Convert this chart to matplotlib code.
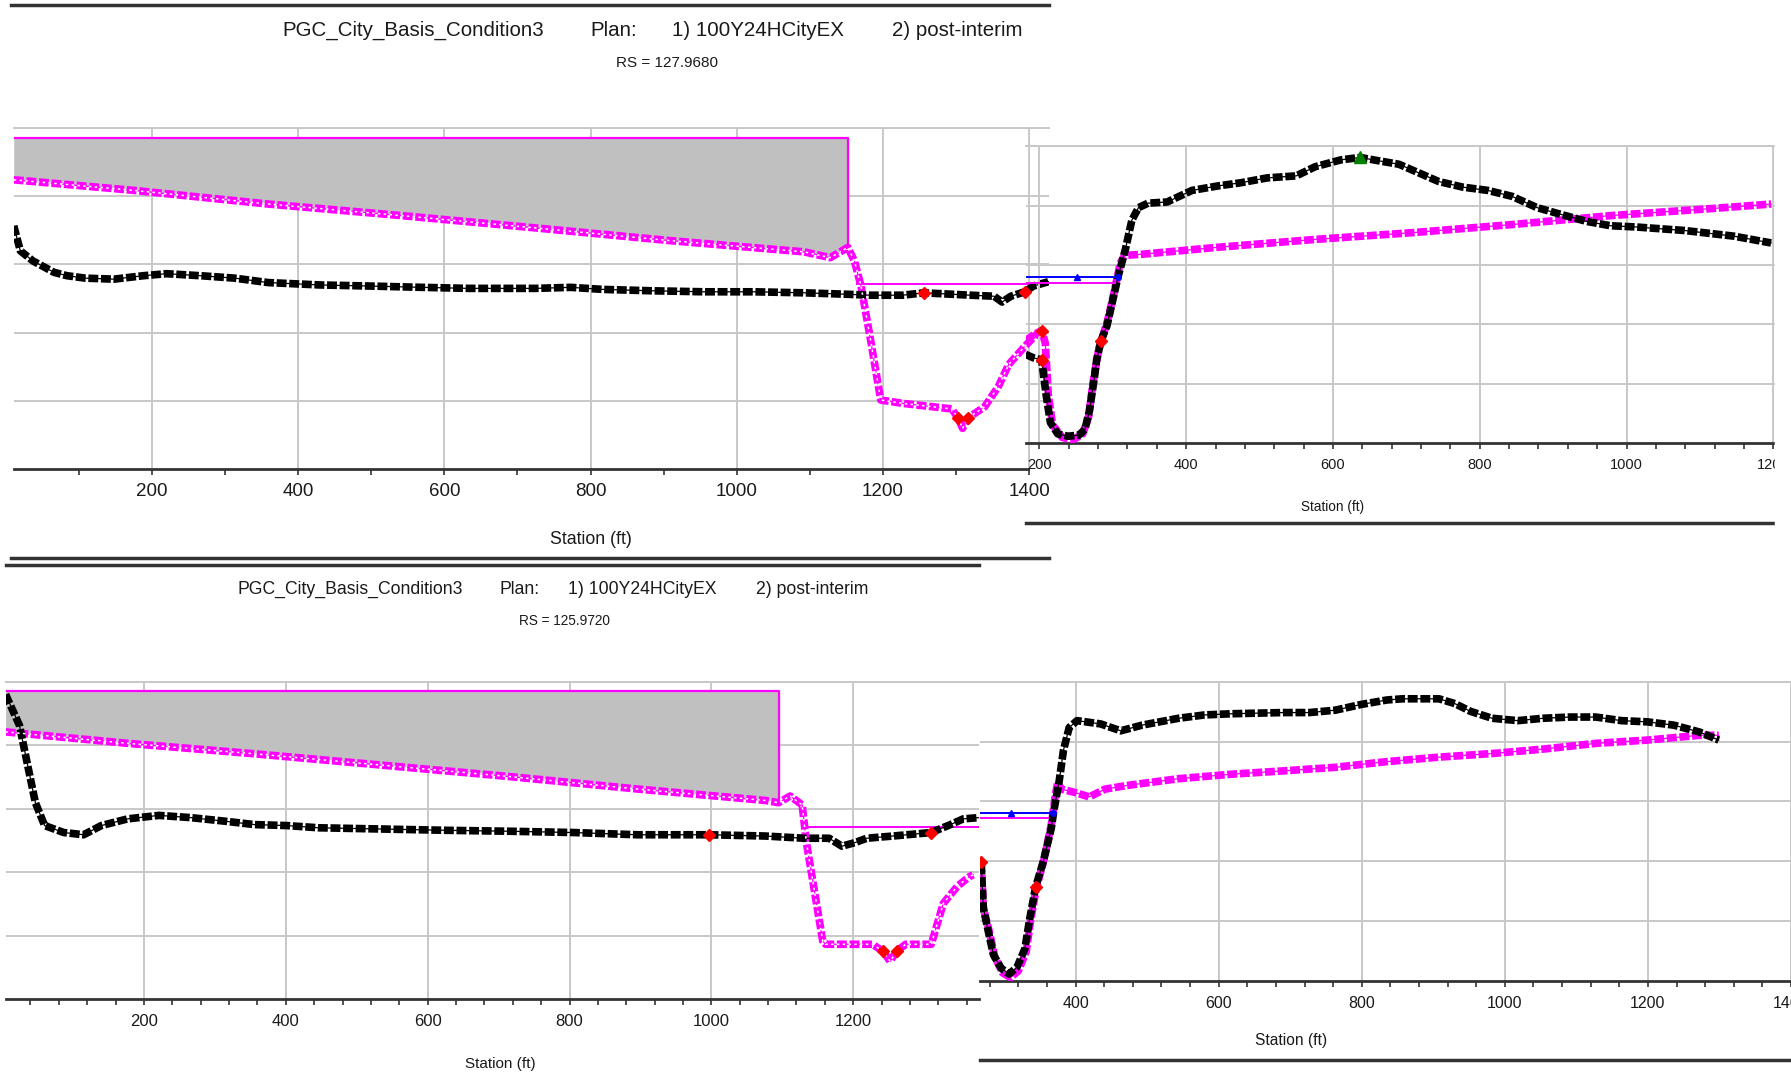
import numpy as np
import matplotlib.pyplot as plt
from matplotlib.lines import Line2D
from matplotlib.patches import Rectangle

plt.rcParams['font.family'] = ['Liberation Sans', 'DejaVu Sans']

# ---------------- data (station ft, elevation ft) ----------------
# RS = 127.9680, left part
a_ex_sta = [11, 20, 37.5, 66, 84, 109, 148, 188, 220, 267, 313, 359, 430, 495, 570, 633, 725, 773,
            817, 883, 955, 1023, 1092, 1148, 1183, 1227, 1256, 1320, 1352, 1363, 1375, 1394, 1406, 1427]
a_ex_el = [247.13, 246.40, 246.10, 245.77, 245.67, 245.60, 245.57, 245.67, 245.73, 245.67, 245.60,
           245.47, 245.40, 245.37, 245.33, 245.30, 245.30, 245.33, 245.27, 245.23, 245.20, 245.20,
           245.17, 245.13, 245.10, 245.10, 245.17, 245.10, 245.07, 244.90, 245.07, 245.20, 245.37, 245.50]
a_pi_sta = [11, 175, 359, 542, 725, 908, 1092, 1128, 1152, 1161, 1170, 1183, 1197, 1228, 1294,
            1303, 1309, 1316, 1339, 1358, 1372, 1394, 1403, 1414]
a_pi_el = [248.48, 248.17, 247.77, 247.43, 247.07, 246.70, 246.37, 246.20, 246.50, 246.10, 245.37,
           243.80, 242.03, 241.93, 241.77, 241.50, 241.20, 241.50, 241.83, 242.43, 243.07, 243.60,
           243.80, 244.03]
a_obs_sta = [11, 1152]
a_obs_top = 249.7
a_ws_sta = [1164, 1398]
a_ws_el = 245.43
a_bank_sta = [1256, 1394, 1303, 1316]
a_bank_el = [245.17, 245.20, 241.50, 241.50]

# RS = 127.9680, right part
b_ex_sta = [181, 192, 203, 209, 215, 225, 239, 254, 262, 268, 275, 278, 284, 292, 299, 307, 317,
            326, 335, 348, 374, 408, 443, 475, 510, 550, 576, 611, 637, 664, 690, 744, 777, 811,
            844, 878, 911, 945, 978, 1012, 1079, 1146, 1197]
b_ex_el = [242.99, 242.87, 242.80, 241.65, 240.69, 240.31, 240.23, 240.27, 240.46, 241.07, 242.22,
           242.80, 243.45, 243.95, 244.71, 245.59, 246.51, 247.51, 247.93, 248.08, 248.12, 248.51,
           248.66, 248.77, 248.93, 249.00, 249.31, 249.54, 249.62, 249.50, 249.39, 248.81, 248.62,
           248.51, 248.31, 247.93, 247.70, 247.47, 247.32, 247.28, 247.16, 246.97, 246.74]
b_pi_sta = [181, 192, 203, 208, 212, 218, 231, 246, 259, 267, 273, 281, 293, 302, 310, 316, 340,
            441, 576, 710, 844, 978, 1111, 1197]
b_pi_el = [243.45, 243.64, 243.79, 243.37, 241.65, 240.61, 240.19, 240.11, 240.31, 240.88, 242.03,
           243.18, 244.14, 245.10, 246.05, 246.32, 246.36, 246.59, 246.86, 247.09, 247.36, 247.66,
           247.89, 248.05]
b_ws1_sta = [181, 307]
b_ws1_el = 245.59
b_ws2_sta = [181, 303]
b_ws2_el = 245.40
b_ws1_mark = 251
b_bank_sta = [203, 284, 203]
b_bank_el = [242.80, 243.45, 243.79]
b_levee_sta = [637]
b_levee_el = [249.62]

# RS = 125.9720, left part
c_ex_sta = [5, 24.5, 37, 47, 60, 87, 115, 140, 177, 221, 266, 313, 356, 401, 446, 537, 627, 717,
            806, 896, 996, 1076, 1131, 1166, 1184, 1202, 1219, 1256, 1310, 1337, 1355, 1377]
c_ex_el = [249.60, 248.63, 247.27, 246.19, 245.47, 245.25, 245.18, 245.47, 245.68, 245.79, 245.72,
           245.61, 245.50, 245.47, 245.40, 245.36, 245.32, 245.29, 245.25, 245.18, 245.18, 245.14,
           245.07, 245.07, 244.82, 244.93, 245.07, 245.14, 245.25, 245.50, 245.68, 245.72]
c_pi_sta = [5, 177, 356, 537, 717, 896, 1076, 1095, 1111, 1128, 1134, 1157, 1161, 1227, 1242,
            1252, 1261, 1274, 1310, 1327, 1347, 1363, 1369]
c_pi_el = [248.42, 248.06, 247.73, 247.37, 247.01, 246.62, 246.26, 246.19, 246.40, 246.12, 244.93,
           241.83, 241.73, 241.73, 241.51, 241.19, 241.51, 241.73, 241.73, 243.02, 243.56, 243.85,
           243.92]
c_obs_sta = [5, 1095]
c_obs_top = 249.71
c_ws_sta = [1131, 1377]
c_ws_el = 245.43
c_bank_sta = [996, 1310, 1242, 1261]
c_bank_el = [245.18, 245.25, 241.51, 241.51]

# RS = 125.9720, right part
d_ex_sta = [268, 271, 277, 285, 296, 307, 318, 329, 336, 344, 355, 366, 369, 377, 383, 391, 402,
            435, 463, 493, 544, 580, 618, 690, 727, 763, 799, 835, 857, 908, 930, 952, 982, 1018,
            1054, 1091, 1127, 1163, 1199, 1236, 1272, 1299]
d_ex_el = [243.89, 242.44, 241.76, 240.88, 240.42, 240.23, 240.46, 241.07, 242.10, 243.13, 244.01,
           245.11, 245.61, 246.68, 247.71, 248.47, 248.70, 248.59, 248.36, 248.55, 248.78, 248.89,
           248.93, 248.97, 248.97, 249.05, 249.24, 249.39, 249.43, 249.43, 249.27, 249.01, 248.78,
           248.70, 248.78, 248.82, 248.82, 248.70, 248.66, 248.55, 248.32, 248.05]
d_pi_sta = [268, 271, 279, 287, 298, 309, 320, 331, 337, 345, 356, 366, 372, 375, 380, 399, 419,
            441, 471, 544, 618, 690, 763, 835, 908, 982, 1054, 1127, 1199, 1272, 1299]
d_pi_el = [243.97, 242.44, 241.68, 240.80, 240.27, 240.11, 240.34, 240.99, 242.02, 243.09, 244.08,
           245.23, 246.26, 246.64, 246.41, 246.30, 246.15, 246.41, 246.53, 246.76, 246.91, 247.02,
           247.14, 247.33, 247.48, 247.60, 247.75, 247.94, 248.05, 248.21, 248.21]
d_ws1_sta = [266, 369]
d_ws1_el = 245.61
d_ws2_sta = [266, 361]
d_ws2_el = 245.46
d_ws1_mark = 309
d_bank_sta = [344, 268]
d_bank_el = [243.13, 243.97]

TITLE = ['PGC_City_Basis_Condition3', 'Plan:', '1) 100Y24HCityEX', '2) post-interim']

# ---------------- layout helpers (reference pixel grid 1568 x 944) ----------------
SW, SH = 1568.0, 944.0
MAG = '#ff00ff'
GRID = '#c8c8c8'
DARK = '#333333'


def box(l, t, r, b):
    return [l / SW, 1 - b / SH, (r - l) / SW, (b - t) / SH]


def ftext(x, y, s, size, ha='center'):
    fig.text(x / SW, 1 - y / SH, s, fontsize=size, ha=ha, va='center', color='#1a1a1a')


def hline(x0, x1, y, lw=2.5):
    fig.add_artist(Line2D([x0 / SW, x1 / SW], [1 - y / SH, 1 - y / SH], color=DARK, lw=lw))


def setup(ax, xlim, major, minor, fs, pad):
    ax.set_facecolor('none')
    ax.set_xlim(*xlim)
    ax.set_ylim(240, 250)
    ax.set_xticks(major)
    ax.set_xticks(minor, minor=True)
    ax.set_yticks(np.arange(242, 251, 2))
    ax.tick_params(axis='y', left=False, labelleft=False)
    ax.tick_params(axis='x', which='both', direction='out', length=4, width=1.2,
                   color=DARK, labelsize=fs, pad=pad, labelcolor='#1a1a1a')
    ax.grid(True, which='major', color=GRID, lw=1.4)
    ax.set_axisbelow(True)
    for s in ['left', 'right']:
        ax.spines[s].set_visible(False)
    ax.spines['top'].set_color(GRID)
    ax.spines['top'].set_linewidth(1.4)
    ax.spines['bottom'].set_color(DARK)
    ax.spines['bottom'].set_linewidth(2)


def ground(ax, sta, el, color, hollow=False):
    ax.plot(sta, el, color=color, lw=0.9, zorder=3)
    ax.plot(sta, el, color=color, lw=5.5, dashes=(1.3, 0.35), solid_capstyle='butt', zorder=3)
    if hollow:
        ax.plot(sta, el, color='white', lw=1.1, dashes=(1.6, 2.2), zorder=4)


def obstruction(ax, sta, el, obs_sta, top):
    sta = np.asarray(sta)
    el = np.asarray(el)
    m = (sta >= obs_sta[0]) & (sta <= obs_sta[1])
    ax.fill_between(sta[m], el[m], top, color='#c0c0c0', lw=0, zorder=1)
    ax.plot([obs_sta[0], obs_sta[1], obs_sta[1]], [top, top, el[m][-1]], color=MAG, lw=1.6, zorder=2)


def banks(ax, sta, el):
    ax.plot(sta, el, ls='none', marker='D', ms=6, color='red', zorder=6)


fig = plt.figure(figsize=(17.91, 10.78), dpi=100)

# ---------------- panel A ----------------
axA = fig.add_axes(box(12, 112, 918, 411))
setup(axA, ((12 - 5) / 0.64, (918 - 5) / 0.64), np.arange(200, 1401, 200),
      np.arange(100, 1401, 100), 13.5, 6)
axA.spines['bottom'].set_bounds(11, 1398)
obstruction(axA, a_pi_sta, a_pi_el, a_obs_sta, a_obs_top)
ground(axA, a_pi_sta, a_pi_el, MAG, hollow=True)
ground(axA, a_ex_sta, a_ex_el, 'black')
axA.plot(a_ws_sta, [a_ws_el] * 2, color=MAG, lw=1.4, zorder=2)
banks(axA, a_bank_sta, a_bank_el)

# ---------------- panel B ----------------
axB = fig.add_axes(box(898, 128, 1556, 388))
setup(axB, ((898 - 781.5) / 0.6425, (1556 - 781.5) / 0.6425), np.arange(200, 1201, 200),
      np.arange(200, 1201, 40), 10.5, 7)
ground(axB, b_pi_sta, b_pi_el, MAG)
ground(axB, b_ex_sta, b_ex_el, 'black')
axB.plot(b_ws2_sta, [b_ws2_el] * 2, color=MAG, lw=1.4, zorder=5)
axB.plot(b_ws1_sta, [b_ws1_el] * 2, color='#0000ff', lw=1.4, zorder=5)
axB.plot([b_ws1_mark], [b_ws1_el], marker='^', ms=5, color='#0000ff', zorder=6)
axB.plot(b_ws1_sta[-1:], [b_ws1_el], marker='o', ms=4, color='#0000ff', zorder=6)
axB.plot(b_levee_sta, b_levee_el, ls='none', marker='^', ms=8, color='green', zorder=6)
banks(axB, b_bank_sta, b_bank_el)

# ---------------- panel C ----------------
axC = fig.add_axes(box(5, 597, 857, 875))
setup(axC, ((5 - 1.8) / 0.621, (857 - 1.8) / 0.621), np.arange(200, 1201, 200),
      np.arange(40, 1377, 40), 12, 7)
obstruction(axC, c_pi_sta, c_pi_el, c_obs_sta, c_obs_top)
ground(axC, c_pi_sta, c_pi_el, MAG, hollow=True)
ground(axC, c_ex_sta, c_ex_el, 'black')
axC.plot(c_ws_sta, [c_ws_el] * 2, color=MAG, lw=1.4, zorder=2)
banks(axC, c_bank_sta, c_bank_el)

# ---------------- panel D ----------------
axD = fig.add_axes(box(858, 597, 1568, 859))
setup(axD, ((858 - 689) / 0.6345, (1568 - 689) / 0.6345), np.arange(400, 1401, 200),
      np.arange(280, 1401, 40), 11.5, 7)
ground(axD, d_pi_sta, d_pi_el, MAG)
ground(axD, d_ex_sta, d_ex_el, 'black')
axD.plot(d_ws2_sta, [d_ws2_el] * 2, color=MAG, lw=1.4, zorder=5)
axD.plot(d_ws1_sta, [d_ws1_el] * 2, color='#0000ff', lw=1.4, zorder=5)
axD.plot([d_ws1_mark], [d_ws1_el], marker='^', ms=5, color='#0000ff', zorder=6)
axD.plot(d_ws1_sta[-1:], [d_ws1_el], marker='o', ms=4, color='#0000ff', zorder=6)
banks(axD, d_bank_sta, d_bank_el)

# ---------------- titles, labels, frame lines ----------------
for x, s in zip([247, 517, 588, 781], TITLE):
    ftext(x, 27, s, 14.8, ha='left')
ftext(584, 55, 'RS = 127.9680', 11)
for x, s in zip([208, 437, 497, 662], TITLE):
    ftext(x, 516, s, 12.7, ha='left')
ftext(494, 544, 'RS = 125.9720', 9.8)

ftext(517, 472, 'Station (ft)', 12.8)
ftext(1167, 444, 'Station (ft)', 9.8)
ftext(438, 932, 'Station (ft)', 11)
ftext(1130, 911, 'Station (ft)', 11.2)

hline(10, 918, 4)
hline(10, 918, 489)
hline(5, 857, 495)
hline(898, 1553, 458)
hline(858, 1568, 928)

# right edge of the upper-right screenshot is cropped
fig.add_artist(Rectangle((1554 / SW, 1 - 470 / SH), 20 / SW, 360 / SH,
                         transform=fig.transFigure, color='white', zorder=10))

fig.savefig('out.png', dpi=100, facecolor='white')
